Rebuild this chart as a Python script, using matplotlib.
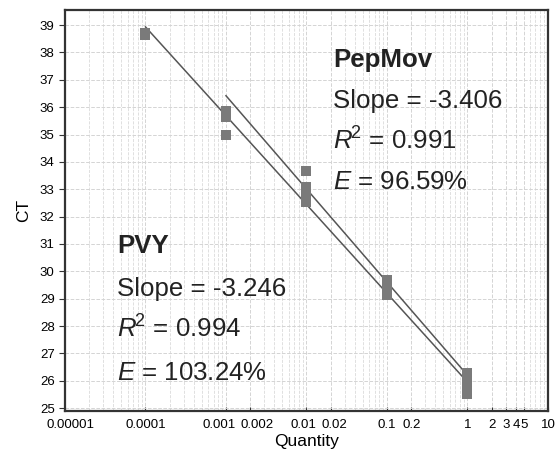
import numpy as np
import matplotlib
matplotlib.use("Agg")
import matplotlib.pyplot as plt
import matplotlib.transforms as mtransforms

plt.rcParams['font.family'] = ['Liberation Sans', 'DejaVu Sans']
plt.rcParams['mathtext.fontset'] = 'custom'
plt.rcParams['mathtext.rm'] = 'Liberation Sans'
plt.rcParams['mathtext.it'] = 'Liberation Sans:italic'
plt.rcParams['mathtext.bf'] = 'Liberation Sans:bold'

# replicate CT values
quantity = [0.0001, 0.0001, 0.001, 0.001, 0.001,
            0.01, 0.01, 0.01, 0.01, 0.01,
            0.1, 0.1, 0.1, 0.1,
            1, 1, 1, 1]
ct = [38.62, 38.7, 35.85, 35.65, 35.0,
      33.65, 33.1, 32.9, 32.7, 32.55,
      29.7, 29.5, 29.3, 29.15,
      26.3, 26.0, 25.8, 25.5]

# standard curves: CT = intercept + slope*log10(q)
pvy_range = [0.0001, 1]
pvy_slope = -3.246
pvy_intercept = 25.95
pep_range = [0.001, 1]
pep_slope = -3.406
pep_intercept = 26.2

xticks = [1e-5, 1e-4, 1e-3, 2e-3, 1e-2, 2e-2, 0.1, 0.2, 1, 2, 3, 4, 5, 10]
xlabels = ['0.00001', '0.0001', '0.001', '0.002', '0.01', '0.02', '0.1', '0.2',
           '1', '2', '3', '4', '5', '10']

fig = plt.figure(figsize=(5.58, 4.57), dpi=100)
ax = fig.add_axes([0.1165, 0.101, 0.8655, 0.877])

ax.set_xscale('log')
ax.set_xlim(1e-5, 10)
ax.set_ylim(24.9, 39.55)

# grid
ax.grid(True, which='major', axis='both', color='#d4d4d4', linestyle='--', linewidth=0.7)
ax.grid(True, which='minor', axis='x', color='#dadada', linestyle='--', linewidth=0.6)
ax.set_axisbelow(True)

# fitted lines
for rng, s, b in [(pvy_range, pvy_slope, pvy_intercept), (pep_range, pep_slope, pep_intercept)]:
    xs = np.array(rng)
    ax.plot(xs, b + s * np.log10(xs), color='#555555', linewidth=1.1, zorder=2)

ax.plot(quantity, ct, linestyle='none', marker='s', markersize=7,
        color='#7a7a7a', markeredgewidth=0, zorder=3)

ax.set_xticks(xticks)
ax.set_xticklabels(xlabels)
ax.xaxis.set_minor_formatter(plt.NullFormatter())
ax.set_yticks(range(25, 40))

ax.tick_params(axis='x', which='major', direction='in', length=3, labelsize=9.5,
               color='#333333', pad=6)
ax.tick_params(axis='x', which='minor', length=0)
ax.tick_params(axis='y', direction='out', length=4, labelsize=9.5, color='#333333')

# nudge crowded tick labels apart
shifts = {'0.00001': 5, '0.001': -7, '0.002': 7, '0.01': -3, '0.02': 4}
for lab in ax.get_xticklabels():
    dx = shifts.get(lab.get_text(), 0)
    if dx:
        lab.set_transform(lab.get_transform() +
                          mtransforms.ScaledTranslation(dx / 100, 0, fig.dpi_scale_trans))

for sp in ax.spines.values():
    sp.set_linewidth(1.6)
    sp.set_color('#333333')

ax.set_xlabel('Quantity', fontsize=12.5, labelpad=2)
ax.set_ylabel('CT', fontsize=12.5, labelpad=6)

fs = 18.6
tc = '#222222'
# PepMov annotation
ax.text(0.555, 0.857, 'PepMov', transform=ax.transAxes, fontsize=fs, fontweight='bold', color=tc)
ax.text(0.555, 0.755, 'Slope = -3.406', transform=ax.transAxes, fontsize=fs, color=tc)
ax.text(0.555, 0.653, r'$R^{\!2}$ = 0.991', transform=ax.transAxes, fontsize=fs, color=tc)
ax.text(0.555, 0.553, r'$E$ = 96.59%', transform=ax.transAxes, fontsize=fs, color=tc)
# PVY annotation
ax.text(0.108, 0.394, 'PVY', transform=ax.transAxes, fontsize=fs, fontweight='bold', color=tc)
ax.text(0.108, 0.287, 'Slope = -3.246', transform=ax.transAxes, fontsize=fs, color=tc)
ax.text(0.108, 0.182, r'$R^{\!2}$ = 0.994', transform=ax.transAxes, fontsize=fs, color=tc)
ax.text(0.108, 0.077, r'$E$ = 103.24%', transform=ax.transAxes, fontsize=fs, color=tc)

fig.savefig('out.png', dpi=100)
